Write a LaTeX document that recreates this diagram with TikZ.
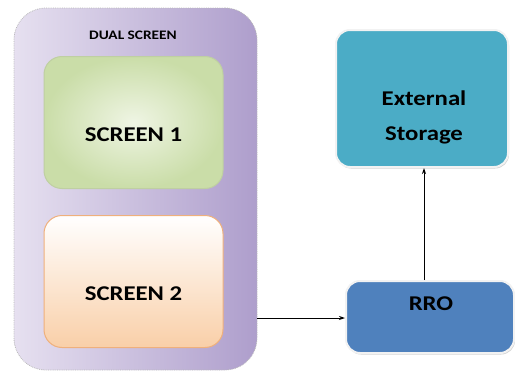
\documentclass[tikz,border=0pt]{standalone}
\usepackage{fontspec}
\setmainfont{Carlito}
\newfontfamily\widefont[FakeStretch=1.18]{Carlito}
\usetikzlibrary{arrows.meta,shadows}
\definecolor{purpleL}{HTML}{E6E0F0}
\definecolor{purpleM}{HTML}{D6CDE6}
\definecolor{purpleD}{HTML}{AE9ECC}
\definecolor{greenL}{HTML}{EFF5E4}
\definecolor{greenD}{HTML}{CADDA8}
\definecolor{peachL}{HTML}{FFFFFF}
\definecolor{peachD}{HTML}{F9CFA8}
\definecolor{peachB}{HTML}{EFB07C}
\definecolor{esfill}{HTML}{4BACC6}
\definecolor{rrofill}{HTML}{4F81BD}
\tikzset{
  outerbox/.style={draw=gray!55, densely dotted, line width=0.8pt, rounded corners=32pt,
    left color=purpleL, middle color=purpleM, right color=purpleD, minimum width=243pt, minimum height=362pt},
  scrbox/.style={rounded corners=18pt, minimum width=179pt, minimum height=132pt, line width=1pt},
  bigtxt/.style={font=\widefont\bfseries\fontsize{21}{35}\selectfont, align=center},
  blockbox/.style={rounded corners=14pt, draw=white!90!gray, line width=2pt,
    drop shadow={shadow xshift=1pt, shadow yshift=-1.5pt, opacity=0.35}},
  conn/.style={-{Stealth[length=6pt,width=4pt]}, line width=0.9pt}
}
\begin{document}
\begin{tikzpicture}[x=1pt,y=-1pt]
\useasboundingbox (0,0) rectangle (515,383);
\node[outerbox] (dual) at (135.5,189) {};
\node[font=\widefont\bfseries\fontsize{13}{15}\selectfont] (duallbl) at (133,35.5) {DUAL SCREEN};
\node[scrbox, draw=greenD!85!gray, inner color=greenL, outer color=greenD] (s1) at (133.5,122.5) {};
\node[bigtxt] (s1t) at (133.5,135) {SCREEN 1};
\node[scrbox, draw=peachB, top color=peachL, bottom color=peachD] (s2) at (133.5,281.5) {};
\node[bigtxt] (s2t) at (133.5,294) {SCREEN 2};
\node[blockbox, fill=esfill, minimum width=172pt, minimum height=137pt] (es) at (422,98.5) {};
\node[bigtxt] (est) at (424,117.5) {External\\Storage};
\node[blockbox, fill=rrofill, minimum width=168pt, minimum height=72pt] (rro) at (430,317) {};
\node[bigtxt] (rrot) at (431,303.5) {RRO};
\draw[conn] (dual.east |- 0,318) -- (rro.west |- 0,318);
\draw[conn] (rro.north -| 424,0) -- (es.south -| 424,0);
\end{tikzpicture}
\end{document}
